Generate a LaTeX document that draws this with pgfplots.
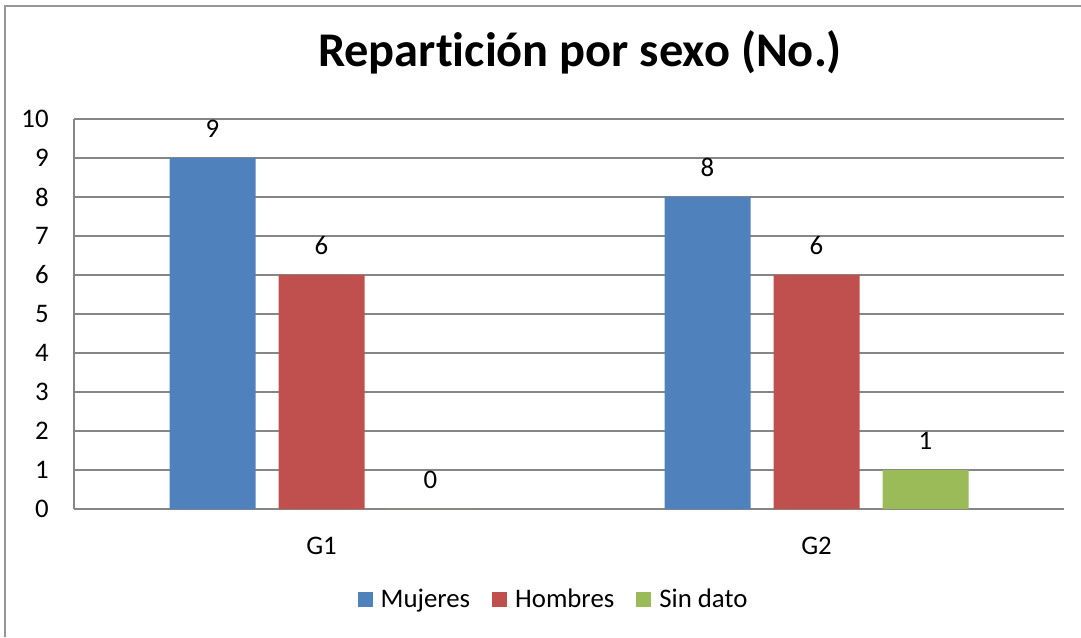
\documentclass[border=0pt]{standalone}
\usepackage{pgfplots}
\pgfplotsset{compat=1.18}
\usepackage{fontspec}
\setmainfont{Carlito}[Ligatures=NoCommon]
\definecolor{cblue}{HTML}{4F81BD}
\definecolor{cred}{HTML}{C0504D}
\definecolor{cgreen}{HTML}{9BBB59}
\definecolor{cgrid}{RGB}{134,134,134}
\definecolor{cframe}{RGB}{150,150,150}
\begin{document}
\begin{tikzpicture}
\useasboundingbox (0,0) rectangle (540.5pt,318.5pt);
\draw[cframe, line width=1pt] (2.5pt,0pt) -- (2.5pt,315.5pt) -- (545pt,315.5pt);
\node[anchor=base, font=\fontsize{24.2}{28}\selectfont\bfseries] at (290pt,285pt) {Repartición por sexo (No.)};
\begin{axis}[
  at={(37pt,64pt)}, anchor=south west,
  width=495pt, height=195pt, scale only axis,
  ybar=11.5pt, bar width=43pt,
  xmin=-0.5, xmax=1.5, ymin=0, ymax=10,
  xtick=data, xticklabels={G1,G2},
  ytick={0,1,...,10},
  axis x line=bottom, axis y line=left,
  axis line style={-, cgrid, line width=0.75pt},
  ymajorgrids, grid style={cgrid, line width=0.7pt},
  major tick length=0pt,
  tick style={draw=none},
  /pgf/number format/assume math mode=true,
  ticklabel style={font=\fontsize{13.4}{16}\selectfont},
  yticklabel style={inner sep=0pt, xshift=-12.5pt},
  xticklabel style={inner sep=0pt, yshift=-14pt},
  nodes near coords,
  nodes near coords style={font=\fontsize{13.4}{16}\selectfont, anchor=south, inner sep=0pt, yshift=10pt, /pgf/number format/assume math mode=true},
  legend columns=3,
  legend style={draw=none, at={(0.4854,-0.2333)}, anchor=center,
    font=\fontsize{13.4}{16}\selectfont,
    /tikz/every even column/.append style={column sep=9pt}},
  legend image code/.code={\fill[#1] (0pt,-3.75pt) rectangle (7.5pt,3.75pt); \path (9.5pt,0pt);},
  clip=false,
]
\addplot[fill=cblue, draw=none] coordinates {(0,9) (1,8)};
\addplot[fill=cred, draw=none] coordinates {(0,6) (1,6)};
\addplot[fill=cgreen, draw=none] coordinates {(0,0) (1,1)};
\legend{Mujeres,Hombres,Sin dato}
\end{axis}
\end{tikzpicture}
\end{document}
